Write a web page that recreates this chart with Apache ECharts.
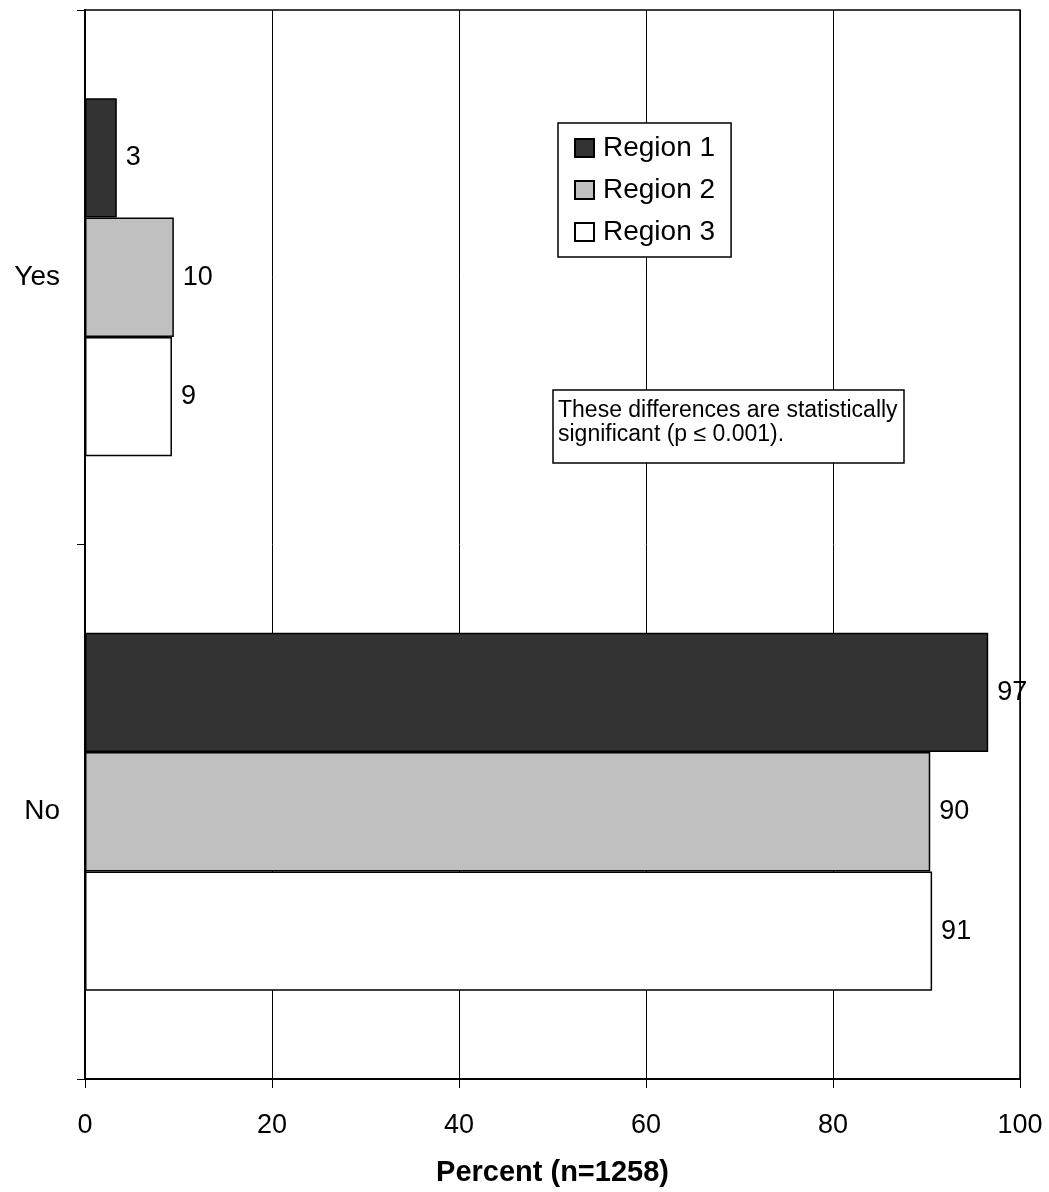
<!DOCTYPE html>
<html>
<head>
<meta charset="utf-8">
<script src="https://cdn.jsdelivr.net/npm/echarts@6/dist/echarts.min.js"></script>
<style>
  html, body { margin: 0; padding: 0; background: #fff; }
  #chart { width: 1049px; height: 1192px; }
</style>
</head>
<body>
<div id="chart"></div>
<script>
const categories = ['Yes', 'No'];
const seriesNames = ['Region 1', 'Region 2', 'Region 3'];
const region1 = [3.4, 96.6];
const region2 = [9.5, 90.4];
const region3 = [9.3, 90.6];
const xTicks = [0, 20, 40, 60, 80, 100];
const axisTitle = 'Percent (n=1258)';
const noteText = 'These differences are statistically\nsignificant (p \u2264 0.001).';

const fills = ['#333333', '#c0c0c0', '#ffffff'];
const FONT = '"Liberation Sans", Arial, sans-serif';

const chart = echarts.init(document.getElementById('chart'), null, { renderer: 'canvas' });

function mkSeries(name, data, color) {
  return {
    name: name,
    type: 'bar',
    data: data,
    barGap: '0%',
    barCategoryGap: '33%',
    itemStyle: { color: color, borderColor: '#000', borderWidth: 1.5 },
    label: {
      show: true,
      position: 'right',
      distance: 9,
      color: '#000',
      fontFamily: FONT,
      fontSize: 27,
      formatter: p => String(Math.round(p.value))
    },
    emphasis: { disabled: true }
  };
}

chart.setOption({
  animation: false,
  backgroundColor: '#fff',
  grid: {
    left: 85, right: 29, top: 10, bottom: 111,
    show: true, borderColor: '#000', borderWidth: 1.5, backgroundColor: 'transparent'
  },
  title: {
    text: noteText,
    left: 553, top: 390,
    padding: [9, 7, 16, 5],
    borderColor: '#000', borderWidth: 1.5,
    backgroundColor: '#fff',
    textStyle: { fontFamily: FONT, fontSize: 23, fontWeight: 'normal', color: '#000', lineHeight: 24 }
  },
  legend: {
    orient: 'vertical',
    left: 558, top: 123,
    padding: [11, 16, 11, 16],
    itemWidth: 19, itemHeight: 18,
    itemGap: 14,
    icon: 'rect',
    borderColor: '#000', borderWidth: 1.5,
    backgroundColor: '#fff',
    textStyle: { fontFamily: FONT, fontSize: 28, color: '#000', padding: [0, 0, 0, 4] },
    data: seriesNames
  },
  xAxis: {
    type: 'value',
    min: 0, max: 100, interval: 20,
    name: axisTitle,
    nameLocation: 'middle',
    nameGap: 79,
    nameTextStyle: { fontFamily: FONT, fontSize: 29, fontWeight: 'bold', color: '#000' },
    axisLine: { show: true, lineStyle: { color: '#000', width: 2 } },
    axisTick: { show: true, length: 9, lineStyle: { color: '#000', width: 1 } },
    axisLabel: {
      fontFamily: FONT, fontSize: 27, color: '#000', margin: 33,
      formatter: v => xTicks.includes(v) ? String(v) : ''
    },
    splitLine: { show: true, lineStyle: { color: '#000', width: 1 } }
  },
  yAxis: {
    type: 'category',
    data: categories,
    inverse: true,
    axisLine: { show: true, lineStyle: { color: '#000', width: 2 } },
    axisTick: { show: true, length: 8, lineStyle: { color: '#000', width: 1 } },
    axisLabel: { fontFamily: FONT, fontSize: 28, color: '#000', margin: 25 },
    splitLine: { show: false }
  },
  series: [
    mkSeries(seriesNames[0], region1, fills[0]),
    mkSeries(seriesNames[1], region2, fills[1]),
    mkSeries(seriesNames[2], region3, fills[2])
  ]
});
</script>
</body>
</html>
